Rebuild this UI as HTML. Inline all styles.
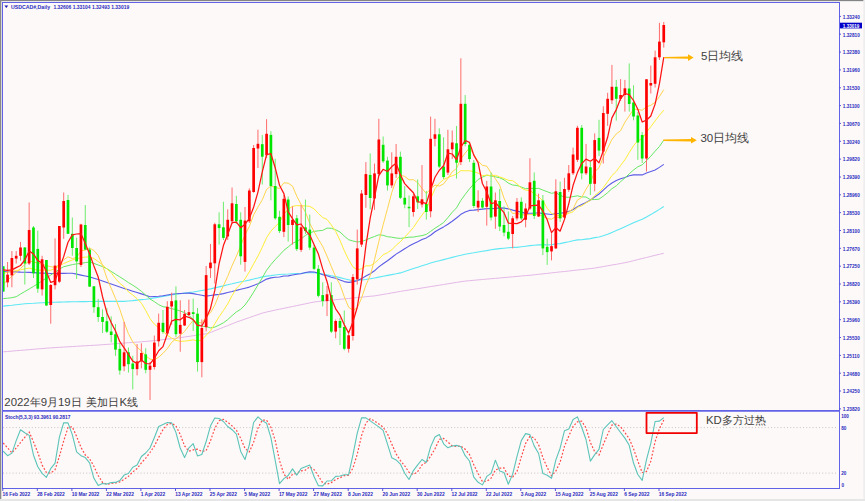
<!DOCTYPE html>
<html><head><meta charset="utf-8">
<style>
html,body{margin:0;padding:0;background:#fdf9f8;}
body{width:865px;height:501px;overflow:hidden;position:relative;font-family:"Liberation Sans",sans-serif;}
svg{position:absolute;left:0;top:0;}
.ax text{font-family:"Liberation Sans",sans-serif;font-size:5.9px;fill:#2a2ac0;font-weight:bold;}
.cn{font-family:"Liberation Sans",sans-serif;fill:#404040;}
</style></head><body>
<svg width="865" height="501" viewBox="0 0 865 501">
<rect x="0" y="0" width="865" height="501" fill="#fdf9f8"/>
<rect x="0" y="0" width="865" height="1" fill="#848484"/>
<rect x="0" y="1" width="865" height="1" fill="#e8e8e8"/>
<rect x="0" y="0" width="1.3" height="501" fill="#8a8a8a"/>
<rect x="863.3" y="0" width="1.7" height="501" fill="#eeeeee"/>
<rect x="0" y="499" width="865" height="2" fill="#e6e6e6"/>
<!-- frame -->
<g stroke="#6262e6" stroke-width="1">
<line x1="2.5" y1="2" x2="2.5" y2="489"/>
<line x1="2" y1="2.5" x2="840" y2="2.5"/>
<line x1="839.5" y1="2" x2="839.5" y2="489"/>
<line x1="2" y1="488.5" x2="840" y2="488.5"/>
<line x1="2.5" y1="410.9" x2="839" y2="410.9" stroke-width="1.8"/>
</g>
<!-- levels -->
<line x1="3" y1="427.6" x2="838" y2="427.6" stroke="#b8b8b8" stroke-width="0.8" stroke-dasharray="1,2.2"/>
<line x1="3" y1="473.1" x2="838" y2="473.1" stroke="#b8b8b8" stroke-width="0.8" stroke-dasharray="1,2.2"/>
<g clip-path="url(#mainclip)">
<clipPath id="mainclip"><rect x="3" y="3" width="836" height="407"/></clipPath>
<polyline points="3.2,351.8 7.6,351.5 11.9,351.1 16.2,350.7 20.5,350.4 24.8,350.0 29.2,349.7 33.5,349.3 37.8,348.9 42.1,348.6 46.4,348.2 50.7,347.9 55.1,347.6 59.4,347.3 63.7,347.1 68.0,346.8 72.3,346.6 76.6,346.3 81.0,346.0 85.3,345.8 89.6,345.5 93.9,345.3 98.2,345.0 102.5,344.7 106.9,344.4 111.2,344.1 115.5,343.7 119.8,343.4 124.1,343.1 128.4,342.7 132.8,342.4 137.1,342.1 141.4,341.8 145.7,341.4 150.0,341.1 154.3,340.6 158.7,340.1 163.0,339.6 167.3,339.1 171.6,338.7 175.9,338.2 180.2,337.7 184.6,337.0 188.9,336.4 193.2,335.7 197.5,335.1 201.8,334.4 206.1,333.8 210.5,332.5 214.8,330.7 219.1,329.0 223.4,327.3 227.7,325.6 232.1,323.8 236.4,322.1 240.7,320.6 245.0,319.1 249.3,317.6 253.6,316.1 258.0,314.6 262.3,313.1 266.6,312.0 270.9,311.1 275.2,310.1 279.5,309.2 283.9,308.3 288.2,307.4 292.5,306.5 296.8,305.6 301.1,304.7 305.4,303.8 309.8,302.9 314.1,302.0 318.4,301.5 322.7,301.0 327.0,300.6 331.3,300.2 335.7,299.7 340.0,299.3 344.3,298.9 348.6,298.5 352.9,298.0 357.2,297.6 361.6,297.2 365.9,296.7 370.2,296.3 374.5,295.9 378.8,295.2 383.1,294.4 387.5,293.7 391.8,292.9 396.1,292.2 400.4,291.4 404.7,290.7 409.0,290.0 413.4,289.4 417.7,288.7 422.0,288.0 426.3,287.3 430.6,286.6 435.0,285.9 439.3,285.2 443.6,284.5 447.9,283.8 452.2,283.1 456.5,282.4 460.9,281.7 465.2,281.1 469.5,280.7 473.8,280.3 478.1,279.9 482.4,279.5 486.8,279.1 491.1,278.7 495.4,278.4 499.7,278.0 504.0,277.6 508.3,277.2 512.7,276.8 517.0,276.4 521.3,276.0 525.6,275.6 529.9,275.3 534.2,274.8 538.6,274.3 542.9,273.8 547.2,273.4 551.5,272.9 555.8,272.4 560.1,271.9 564.5,271.5 568.8,271.0 573.1,270.5 577.4,270.0 581.7,269.6 586.0,269.1 590.4,268.6 594.7,268.1 599.0,267.3 603.3,266.6 607.6,265.8 611.9,265.0 616.3,264.3 620.6,263.5 624.9,262.7 629.2,261.8 633.5,260.7 637.8,259.6 642.2,258.5 646.5,257.5 650.8,256.4 655.1,255.3 659.4,254.3 663.8,253.3" fill="none" stroke="#e4b8e8" stroke-width="1" stroke-linejoin="round"/>
<polyline points="3.2,306.1 7.6,305.6 11.9,305.2 16.2,304.7 20.5,304.2 24.8,303.7 29.2,303.5 33.5,303.3 37.8,303.0 42.1,302.8 46.4,302.6 50.7,302.4 55.1,302.3 59.4,302.1 63.7,302.0 68.0,301.9 72.3,301.8 76.6,301.7 81.0,301.6 85.3,301.6 89.6,301.5 93.9,301.5 98.2,301.4 102.5,301.4 106.9,301.4 111.2,301.4 115.5,301.4 119.8,301.4 124.1,301.4 128.4,301.0 132.8,300.6 137.1,300.1 141.4,299.6 145.7,299.2 150.0,298.7 154.3,297.9 158.7,297.2 163.0,296.4 167.3,295.7 171.6,295.0 175.9,294.3 180.2,293.7 184.6,293.1 188.9,292.6 193.2,292.0 197.5,291.3 201.8,290.5 206.1,289.8 210.5,288.9 214.8,287.9 219.1,286.9 223.4,285.9 227.7,284.8 232.1,283.8 236.4,282.7 240.7,281.8 245.0,281.0 249.3,280.1 253.6,279.0 258.0,278.0 262.3,276.9 266.6,276.1 270.9,275.6 275.2,275.0 279.5,274.5 283.9,274.2 288.2,274.0 292.5,273.7 296.8,273.5 301.1,273.3 305.4,273.0 309.8,272.8 314.1,272.6 318.4,273.2 322.7,274.0 327.0,274.9 331.3,275.7 335.7,276.6 340.0,277.6 344.3,278.7 348.6,279.8 352.9,280.8 357.2,280.3 361.6,279.9 365.9,279.5 370.2,278.8 374.5,278.0 378.8,277.1 383.1,276.3 387.5,275.4 391.8,274.6 396.1,273.8 400.4,272.9 404.7,271.5 409.0,270.0 413.4,268.6 417.7,267.2 422.0,265.8 426.3,264.4 430.6,263.0 435.0,261.8 439.3,260.7 443.6,259.6 447.9,258.5 452.2,257.4 456.5,256.3 460.9,255.3 465.2,254.2 469.5,253.5 473.8,252.8 478.1,252.0 482.4,251.3 486.8,250.6 491.1,249.8 495.4,249.1 499.7,248.6 504.0,248.2 508.3,247.8 512.7,247.4 517.0,247.4 521.3,246.8 525.6,246.2 529.9,245.6 534.2,245.3 538.6,244.9 542.9,244.8 547.2,244.9 551.5,244.7 555.8,243.9 560.1,243.6 564.5,242.6 568.8,241.7 573.1,240.7 577.4,239.9 581.7,239.7 586.0,239.1 590.4,238.6 594.7,237.6 599.0,237.0 603.3,235.8 607.6,234.3 611.9,232.4 616.3,230.6 620.6,228.7 624.9,226.7 629.2,224.8 633.5,222.8 637.8,220.9 642.2,219.3 646.5,216.9 650.8,214.6 655.1,212.0 659.4,209.4 663.8,206.5" fill="none" stroke="#5ee8f4" stroke-width="1.1" stroke-linejoin="round"/>
<polyline points="3.2,271.5 7.6,271.7 11.9,271.8 16.2,271.9 20.5,272.1 24.8,272.2 29.2,272.4 33.5,272.6 37.8,272.9 42.1,273.1 46.4,273.3 50.7,273.5 55.1,273.5 59.4,273.4 63.7,273.4 68.0,273.3 72.3,273.3 76.6,274.1 81.0,275.1 85.3,276.0 89.6,276.9 93.9,278.2 98.2,279.5 102.5,280.9 106.9,282.4 111.2,283.9 115.5,285.4 119.8,286.9 124.1,288.4 128.4,289.8 132.8,291.2 137.1,292.6 141.4,293.9 145.7,295.3 150.0,296.7 154.3,296.5 158.7,296.3 163.0,295.7 167.3,295.0 171.6,294.3 175.9,293.7 180.2,293.5 184.6,293.3 188.9,293.1 193.2,293.6 197.5,294.5 201.8,295.3 206.1,296.1 210.5,295.5 214.8,294.9 219.1,294.4 223.4,293.6 227.7,292.5 232.1,291.5 236.4,290.4 240.7,289.3 245.0,288.2 249.3,287.1 253.6,285.4 258.0,283.7 262.3,281.5 266.6,279.1 270.9,277.9 275.2,277.3 279.5,277.0 283.9,276.0 288.2,275.9 292.5,275.0 296.8,274.3 301.1,273.8 305.4,272.5 309.8,271.9 314.1,272.0 318.4,273.1 322.7,274.8 327.0,275.8 331.3,277.2 335.7,278.2 340.0,279.9 344.3,281.6 348.6,282.4 352.9,281.9 357.2,280.7 361.6,278.6 365.9,276.0 370.2,273.7 374.5,270.8 378.8,266.9 383.1,263.7 387.5,260.7 391.8,257.5 396.1,254.1 400.4,251.5 404.7,248.7 409.0,246.1 413.4,243.7 417.7,241.7 422.0,239.5 426.3,237.9 430.6,235.2 435.0,231.8 439.3,229.2 443.6,226.9 447.9,224.2 452.2,221.3 456.5,218.0 460.9,214.3 465.2,212.1 469.5,210.4 473.8,210.1 478.1,209.6 482.4,209.1 486.8,208.6 491.1,208.8 495.4,208.4 499.7,207.9 504.0,208.1 508.3,208.9 512.7,210.1 517.0,211.1 521.3,212.1 525.6,213.4 529.9,213.3 534.2,213.3 538.6,212.7 542.9,213.6 547.2,214.0 551.5,214.5 555.8,213.5 560.1,213.3 564.5,212.6 568.8,211.4 573.1,209.5 577.4,206.7 581.7,204.6 586.0,202.4 590.4,200.0 594.7,197.0 599.0,194.0 603.3,190.1 607.6,186.1 611.9,183.0 616.3,180.5 620.6,178.8 624.9,177.4 629.2,175.8 633.5,174.9 637.8,174.9 642.2,174.9 646.5,173.1 650.8,171.6 655.1,170.0 659.4,167.4 663.8,164.4" fill="none" stroke="#5c5ce6" stroke-width="1.1" stroke-linejoin="round"/>
<polyline points="3.2,298.6 7.6,298.2 11.9,297.7 16.2,296.7 20.5,294.1 24.8,291.5 29.2,289.0 33.5,286.4 37.8,283.8 42.1,280.9 46.4,278.0 50.7,275.1 55.1,272.2 59.4,269.1 63.7,266.7 68.0,265.7 72.3,264.6 76.6,263.9 81.0,263.3 85.3,262.6 89.6,262.0 93.9,263.4 98.2,265.0 102.5,266.6 106.9,268.7 111.2,271.4 115.5,274.2 119.8,276.9 124.1,279.6 128.4,282.6 132.8,285.2 137.1,288.1 141.4,291.3 145.7,295.1 150.0,299.0 154.3,301.6 158.7,304.7 163.0,306.7 167.3,307.3 171.6,308.7 175.9,309.6 180.2,311.0 184.6,312.6 188.9,315.5 193.2,319.2 197.5,323.5 201.8,326.2 206.1,326.6 210.5,327.9 214.8,327.1 219.1,325.1 223.4,322.8 227.7,319.6 232.1,315.6 236.4,311.9 240.7,309.3 245.0,305.0 249.3,299.0 253.6,292.2 258.0,284.8 262.3,277.8 266.6,270.2 270.9,264.6 275.2,259.6 279.5,255.1 283.9,250.3 288.2,247.0 292.5,243.3 296.8,241.4 301.1,238.9 305.4,235.4 309.8,232.9 314.1,231.4 318.4,230.8 322.7,230.4 327.0,228.1 331.3,228.3 335.7,229.8 340.0,232.0 344.3,236.1 348.6,239.7 352.9,241.0 357.2,241.9 361.6,241.6 365.9,240.0 370.2,238.1 374.5,236.5 378.8,234.8 383.1,235.3 387.5,236.7 391.8,237.2 396.1,238.0 400.4,238.4 404.7,237.9 409.0,237.2 413.4,237.1 417.7,236.3 422.0,235.6 426.3,234.4 430.6,231.4 435.0,228.2 439.3,225.5 443.6,222.5 447.9,217.6 452.2,212.3 456.5,207.9 460.9,200.3 465.2,194.4 469.5,188.8 473.8,184.0 478.1,179.5 482.4,177.2 486.8,175.2 491.1,176.0 495.4,176.8 499.7,177.8 504.0,179.8 508.3,183.1 512.7,185.0 517.0,185.5 521.3,187.0 525.6,188.7 529.9,188.2 534.2,188.6 538.6,188.3 542.9,190.1 547.2,191.7 551.5,193.3 555.8,192.6 560.1,195.3 564.5,197.1 568.8,197.3 573.1,196.6 577.4,195.8 581.7,196.9 586.0,197.0 590.4,199.7 594.7,199.5 599.0,199.2 603.3,196.1 607.6,192.7 611.9,188.7 616.3,185.8 620.6,181.7 624.9,178.0 629.2,173.9 633.5,170.0 637.8,166.8 642.2,164.8 646.5,160.7 650.8,156.2 655.1,151.2 659.4,146.5 663.8,140.1" fill="none" stroke="#66e866" stroke-width="1" stroke-linejoin="round"/>
<polyline points="3.2,273.2 7.6,272.3 11.9,271.5 16.2,270.6 20.5,269.8 24.8,268.9 29.2,268.1 33.5,269.2 37.8,270.2 42.1,270.2 46.4,270.2 50.7,270.2 55.1,268.4 59.4,265.8 63.7,263.5 68.0,261.7 72.3,260.0 76.6,258.8 81.0,257.6 85.3,257.1 89.6,256.9 93.9,258.5 98.2,261.5 102.5,264.8 106.9,269.0 111.2,272.6 115.5,278.5 119.8,283.4 124.1,286.6 128.4,291.8 132.8,295.0 137.1,298.8 141.4,303.2 145.7,310.4 150.0,318.6 154.3,324.1 158.7,327.8 163.0,331.3 167.3,335.4 171.6,338.0 175.9,340.4 180.2,341.3 184.6,341.1 188.9,340.6 193.2,339.8 197.5,341.1 201.8,340.0 206.1,335.3 210.5,330.8 214.8,323.8 219.1,316.7 223.4,310.6 227.7,303.9 232.1,295.6 236.4,288.4 240.7,284.0 245.0,278.9 249.3,271.9 253.6,263.9 258.0,256.0 262.3,247.2 266.6,237.6 270.9,231.2 275.2,226.5 279.5,222.4 283.9,214.2 288.2,209.1 292.5,206.3 296.8,205.6 301.1,205.8 305.4,205.9 309.8,206.4 314.1,208.9 318.4,213.5 322.7,217.5 327.0,219.4 331.3,224.9 335.7,231.4 340.0,240.4 344.3,250.7 348.6,259.6 352.9,266.8 357.2,269.9 361.6,268.7 365.9,265.8 370.2,265.8 374.5,263.2 378.8,259.2 383.1,254.8 387.5,252.7 391.8,249.8 396.1,245.3 400.4,241.7 404.7,237.2 409.0,232.5 413.4,227.6 417.7,221.1 422.0,215.1 426.3,209.3 430.6,198.8 435.0,188.7 439.3,183.2 443.6,179.6 447.9,177.4 452.2,175.8 456.5,174.1 460.9,170.6 465.2,170.8 469.5,170.7 473.8,171.8 478.1,173.1 482.4,175.7 486.8,175.1 491.1,175.7 495.4,175.3 499.7,176.9 504.0,178.4 508.3,180.3 512.7,180.7 517.0,183.8 521.3,188.0 525.6,190.1 529.9,190.4 534.2,193.7 538.6,196.6 542.9,200.9 547.2,208.3 551.5,213.4 555.8,215.0 560.1,215.6 564.5,215.0 568.8,213.3 573.1,211.7 577.4,207.2 581.7,205.9 586.0,202.9 590.4,200.4 594.7,195.5 599.0,192.1 603.3,187.7 607.6,181.7 611.9,175.6 616.3,171.4 620.6,165.4 624.9,159.8 629.2,152.6 633.5,145.8 637.8,140.6 642.2,139.0 646.5,132.0 650.8,126.7 655.1,120.9 659.4,115.3 663.8,110.1" fill="none" stroke="#ffee3a" stroke-width="1" stroke-linejoin="round"/>
<polyline points="3.2,284.1 7.6,280.2 11.9,276.3 16.2,272.4 20.5,268.5 24.8,264.6 29.2,260.8 33.5,262.0 37.8,263.1 42.1,264.2 46.4,265.6 50.7,266.7 55.1,267.4 59.4,264.4 63.7,259.8 68.0,256.8 72.3,258.6 76.6,257.4 81.0,251.0 85.3,250.0 89.6,248.2 93.9,250.4 98.2,255.5 102.5,265.1 106.9,278.2 111.2,288.3 115.5,298.4 119.8,309.4 124.1,322.1 128.4,333.6 132.8,341.9 137.1,347.3 141.4,350.9 145.7,355.7 150.0,359.1 154.3,359.8 158.7,357.1 163.0,353.3 167.3,348.7 171.6,342.4 175.9,338.9 180.2,335.3 184.6,331.4 188.9,325.6 193.2,320.4 197.5,322.4 201.8,322.9 206.1,317.2 210.5,312.8 214.8,305.1 219.1,294.5 223.4,285.8 227.7,276.4 232.1,265.5 236.4,256.2 240.7,245.7 245.0,234.9 249.3,226.5 253.6,215.0 258.0,207.0 262.3,199.8 266.6,189.4 270.9,186.0 275.2,187.5 279.5,188.5 283.9,182.8 288.2,183.2 292.5,186.1 296.8,196.2 301.1,204.6 305.4,212.0 309.8,223.4 314.1,231.7 318.4,239.4 322.7,246.4 327.0,256.0 331.3,266.6 335.7,276.8 340.0,284.6 344.3,296.8 348.6,307.2 352.9,310.1 357.2,308.1 361.6,297.9 365.9,285.2 370.2,275.6 374.5,259.7 378.8,241.6 383.1,224.9 387.5,208.6 391.8,192.4 396.1,180.4 400.4,175.3 404.7,176.4 409.0,179.8 413.4,179.7 417.7,182.6 422.0,188.5 426.3,193.6 430.6,188.9 435.0,185.0 439.3,186.0 443.6,183.9 447.9,178.4 452.2,171.8 456.5,168.5 460.9,158.7 465.2,153.1 469.5,147.8 473.8,154.6 478.1,161.2 482.4,165.3 486.8,166.2 491.1,173.1 495.4,178.8 499.7,185.2 504.0,198.1 508.3,207.6 512.7,213.5 517.0,213.1 521.3,214.8 525.6,214.9 529.9,214.5 534.2,214.3 538.6,214.3 542.9,216.5 547.2,218.5 551.5,219.2 555.8,216.5 560.1,218.2 564.5,215.2 568.8,211.7 573.1,208.9 577.4,200.1 581.7,197.4 586.0,189.2 590.4,182.4 594.7,171.8 599.0,167.7 603.3,157.2 607.6,148.2 611.9,139.5 616.3,133.9 620.6,130.7 624.9,122.2 629.2,115.9 633.5,109.2 637.8,109.4 642.2,110.2 646.5,106.8 650.8,105.3 655.1,102.3 659.4,96.6 663.8,89.6" fill="none" stroke="#ffd54f" stroke-width="1" stroke-linejoin="round"/>
<line x1="3.25" y1="266.0" x2="3.25" y2="292.0" stroke="#6cec6c" stroke-width="1"/>
<rect x="1.90" y="266.3" width="2.70" height="25.2" fill="#00e600"/>
<line x1="7.57" y1="262.0" x2="7.57" y2="287.3" stroke="#ff6c6c" stroke-width="1"/>
<rect x="6.22" y="274.7" width="2.70" height="7.7" fill="#ff0000"/>
<line x1="11.88" y1="251.0" x2="11.88" y2="287.3" stroke="#ff6c6c" stroke-width="1"/>
<rect x="10.53" y="258.0" width="2.70" height="17.4" fill="#ff0000"/>
<line x1="16.20" y1="251.0" x2="16.20" y2="263.5" stroke="#ff6c6c" stroke-width="1"/>
<rect x="14.85" y="255.8" width="2.70" height="2.8" fill="#ff0000"/>
<line x1="20.52" y1="241.9" x2="20.52" y2="260.7" stroke="#ff6c6c" stroke-width="1"/>
<rect x="19.17" y="247.5" width="2.70" height="8.3" fill="#ff0000"/>
<line x1="24.84" y1="247.0" x2="24.84" y2="284.5" stroke="#6cec6c" stroke-width="1"/>
<rect x="23.48" y="247.5" width="2.70" height="16.0" fill="#00e600"/>
<line x1="29.15" y1="202.5" x2="29.15" y2="265.0" stroke="#ff6c6c" stroke-width="1"/>
<rect x="27.80" y="230.0" width="2.70" height="33.5" fill="#ff0000"/>
<line x1="33.47" y1="226.0" x2="33.47" y2="278.0" stroke="#6cec6c" stroke-width="1"/>
<rect x="32.12" y="227.5" width="2.70" height="45.8" fill="#00e600"/>
<line x1="37.79" y1="230.7" x2="37.79" y2="292.8" stroke="#6cec6c" stroke-width="1"/>
<rect x="36.44" y="248.9" width="2.70" height="39.8" fill="#00e600"/>
<line x1="42.10" y1="255.8" x2="42.10" y2="295.6" stroke="#ff6c6c" stroke-width="1"/>
<rect x="40.75" y="259.3" width="2.70" height="30.1" fill="#ff0000"/>
<line x1="46.42" y1="260.0" x2="46.42" y2="306.0" stroke="#6cec6c" stroke-width="1"/>
<rect x="45.07" y="260.0" width="2.70" height="45.5" fill="#00e600"/>
<line x1="50.74" y1="284.0" x2="50.74" y2="323.7" stroke="#ff6c6c" stroke-width="1"/>
<rect x="49.39" y="285.0" width="2.70" height="20.0" fill="#ff0000"/>
<line x1="55.05" y1="238.4" x2="55.05" y2="289.4" stroke="#ff6c6c" stroke-width="1"/>
<rect x="53.70" y="265.6" width="2.70" height="19.6" fill="#ff0000"/>
<line x1="59.37" y1="226.0" x2="59.37" y2="283.0" stroke="#ff6c6c" stroke-width="1"/>
<rect x="58.02" y="226.0" width="2.70" height="55.7" fill="#ff0000"/>
<line x1="63.69" y1="192.5" x2="63.69" y2="238.8" stroke="#ff6c6c" stroke-width="1"/>
<rect x="62.34" y="201.0" width="2.70" height="26.5" fill="#ff0000"/>
<line x1="68.00" y1="195.0" x2="68.00" y2="234.0" stroke="#6cec6c" stroke-width="1"/>
<rect x="66.66" y="200.0" width="2.70" height="33.8" fill="#00e600"/>
<line x1="72.32" y1="217.5" x2="72.32" y2="255.8" stroke="#6cec6c" stroke-width="1"/>
<rect x="70.97" y="233.8" width="2.70" height="14.2" fill="#00e600"/>
<line x1="76.64" y1="237.7" x2="76.64" y2="278.9" stroke="#6cec6c" stroke-width="1"/>
<rect x="75.29" y="248.0" width="2.70" height="13.4" fill="#00e600"/>
<line x1="80.96" y1="223.8" x2="80.96" y2="267.0" stroke="#ff6c6c" stroke-width="1"/>
<rect x="79.61" y="224.5" width="2.70" height="40.5" fill="#ff0000"/>
<line x1="85.27" y1="205.0" x2="85.27" y2="250.0" stroke="#6cec6c" stroke-width="1"/>
<rect x="83.92" y="225.0" width="2.70" height="24.6" fill="#00e600"/>
<line x1="89.59" y1="247.5" x2="89.59" y2="287.0" stroke="#6cec6c" stroke-width="1"/>
<rect x="88.24" y="249.6" width="2.70" height="37.0" fill="#00e600"/>
<line x1="93.91" y1="286.0" x2="93.91" y2="312.8" stroke="#6cec6c" stroke-width="1"/>
<rect x="92.56" y="286.3" width="2.70" height="20.9" fill="#00e600"/>
<line x1="98.22" y1="298.9" x2="98.22" y2="321.9" stroke="#6cec6c" stroke-width="1"/>
<rect x="96.87" y="307.2" width="2.70" height="9.8" fill="#00e600"/>
<line x1="102.54" y1="309.3" x2="102.54" y2="333.0" stroke="#6cec6c" stroke-width="1"/>
<rect x="101.19" y="317.0" width="2.70" height="4.9" fill="#00e600"/>
<line x1="106.86" y1="308.0" x2="106.86" y2="333.0" stroke="#6cec6c" stroke-width="1"/>
<rect x="105.51" y="321.2" width="2.70" height="10.5" fill="#00e600"/>
<line x1="111.18" y1="316.3" x2="111.18" y2="342.4" stroke="#6cec6c" stroke-width="1"/>
<rect x="109.83" y="331.5" width="2.70" height="3.5" fill="#00e600"/>
<line x1="115.49" y1="324.0" x2="115.49" y2="355.8" stroke="#6cec6c" stroke-width="1"/>
<rect x="114.14" y="334.3" width="2.70" height="15.3" fill="#00e600"/>
<line x1="119.81" y1="343.0" x2="119.81" y2="374.7" stroke="#6cec6c" stroke-width="1"/>
<rect x="118.46" y="348.9" width="2.70" height="21.6" fill="#00e600"/>
<line x1="124.13" y1="321.9" x2="124.13" y2="371.2" stroke="#ff6c6c" stroke-width="1"/>
<rect x="122.78" y="352.3" width="2.70" height="14.0" fill="#ff0000"/>
<line x1="128.44" y1="347.5" x2="128.44" y2="372.6" stroke="#6cec6c" stroke-width="1"/>
<rect x="127.09" y="352.3" width="2.70" height="11.9" fill="#00e600"/>
<line x1="132.76" y1="355.8" x2="132.76" y2="389.4" stroke="#6cec6c" stroke-width="1"/>
<rect x="131.41" y="363.5" width="2.70" height="5.6" fill="#00e600"/>
<line x1="137.08" y1="344.0" x2="137.08" y2="375.4" stroke="#ff6c6c" stroke-width="1"/>
<rect x="135.73" y="361.4" width="2.70" height="7.7" fill="#ff0000"/>
<line x1="141.39" y1="343.3" x2="141.39" y2="368.4" stroke="#ff6c6c" stroke-width="1"/>
<rect x="140.04" y="353.0" width="2.70" height="8.4" fill="#ff0000"/>
<line x1="145.71" y1="348.2" x2="145.71" y2="373.3" stroke="#6cec6c" stroke-width="1"/>
<rect x="144.36" y="354.4" width="2.70" height="15.4" fill="#00e600"/>
<line x1="150.03" y1="362.0" x2="150.03" y2="400.0" stroke="#ff6c6c" stroke-width="1"/>
<rect x="148.68" y="365.6" width="2.70" height="4.2" fill="#ff0000"/>
<line x1="154.34" y1="335.6" x2="154.34" y2="369.5" stroke="#ff6c6c" stroke-width="1"/>
<rect x="153.00" y="342.6" width="2.70" height="24.4" fill="#ff0000"/>
<line x1="158.66" y1="313.6" x2="158.66" y2="346.5" stroke="#ff6c6c" stroke-width="1"/>
<rect x="157.31" y="322.8" width="2.70" height="18.5" fill="#ff0000"/>
<line x1="162.98" y1="310.0" x2="162.98" y2="333.8" stroke="#6cec6c" stroke-width="1"/>
<rect x="161.63" y="322.8" width="2.70" height="9.2" fill="#00e600"/>
<line x1="167.30" y1="301.2" x2="167.30" y2="334.0" stroke="#ff6c6c" stroke-width="1"/>
<rect x="165.95" y="306.8" width="2.70" height="26.7" fill="#ff0000"/>
<line x1="171.61" y1="292.7" x2="171.61" y2="324.7" stroke="#ff6c6c" stroke-width="1"/>
<rect x="170.26" y="301.2" width="2.70" height="5.3" fill="#ff0000"/>
<line x1="175.93" y1="286.3" x2="175.93" y2="337.0" stroke="#6cec6c" stroke-width="1"/>
<rect x="174.58" y="300.4" width="2.70" height="33.8" fill="#00e600"/>
<line x1="180.25" y1="300.3" x2="180.25" y2="351.7" stroke="#ff6c6c" stroke-width="1"/>
<rect x="178.90" y="324.9" width="2.70" height="8.8" fill="#ff0000"/>
<line x1="184.56" y1="310.0" x2="184.56" y2="326.0" stroke="#ff6c6c" stroke-width="1"/>
<rect x="183.21" y="313.8" width="2.70" height="11.7" fill="#ff0000"/>
<line x1="188.88" y1="299.6" x2="188.88" y2="316.0" stroke="#ff6c6c" stroke-width="1"/>
<rect x="187.53" y="312.2" width="2.70" height="2.8" fill="#ff0000"/>
<line x1="193.20" y1="298.7" x2="193.20" y2="331.0" stroke="#6cec6c" stroke-width="1"/>
<rect x="191.85" y="312.2" width="2.70" height="1.8" fill="#00e600"/>
<line x1="197.52" y1="308.0" x2="197.52" y2="371.6" stroke="#6cec6c" stroke-width="1"/>
<rect x="196.17" y="313.7" width="2.70" height="48.4" fill="#00e600"/>
<line x1="201.83" y1="319.4" x2="201.83" y2="377.3" stroke="#ff6c6c" stroke-width="1"/>
<rect x="200.48" y="328.0" width="2.70" height="34.1" fill="#ff0000"/>
<line x1="206.15" y1="266.0" x2="206.15" y2="331.4" stroke="#ff6c6c" stroke-width="1"/>
<rect x="204.80" y="275.1" width="2.70" height="52.1" fill="#ff0000"/>
<line x1="210.47" y1="243.9" x2="210.47" y2="278.0" stroke="#ff6c6c" stroke-width="1"/>
<rect x="209.12" y="262.6" width="2.70" height="5.6" fill="#ff0000"/>
<line x1="214.78" y1="222.8" x2="214.78" y2="283.5" stroke="#ff6c6c" stroke-width="1"/>
<rect x="213.43" y="224.3" width="2.70" height="39.0" fill="#ff0000"/>
<line x1="219.10" y1="212.3" x2="219.10" y2="244.6" stroke="#6cec6c" stroke-width="1"/>
<rect x="217.75" y="224.3" width="2.70" height="3.8" fill="#00e600"/>
<line x1="223.42" y1="201.8" x2="223.42" y2="240.0" stroke="#6cec6c" stroke-width="1"/>
<rect x="222.07" y="227.3" width="2.70" height="10.6" fill="#00e600"/>
<line x1="227.73" y1="209.3" x2="227.73" y2="240.0" stroke="#ff6c6c" stroke-width="1"/>
<rect x="226.38" y="219.8" width="2.70" height="16.6" fill="#ff0000"/>
<line x1="232.05" y1="187.5" x2="232.05" y2="224.0" stroke="#ff6c6c" stroke-width="1"/>
<rect x="230.70" y="203.3" width="2.70" height="18.0" fill="#ff0000"/>
<line x1="236.37" y1="195.8" x2="236.37" y2="224.0" stroke="#6cec6c" stroke-width="1"/>
<rect x="235.02" y="204.0" width="2.70" height="17.3" fill="#00e600"/>
<line x1="240.69" y1="212.3" x2="240.69" y2="264.7" stroke="#6cec6c" stroke-width="1"/>
<rect x="239.34" y="219.8" width="2.70" height="36.5" fill="#00e600"/>
<line x1="245.00" y1="207.0" x2="245.00" y2="271.6" stroke="#ff6c6c" stroke-width="1"/>
<rect x="243.65" y="220.6" width="2.70" height="41.3" fill="#ff0000"/>
<line x1="249.32" y1="188.3" x2="249.32" y2="223.0" stroke="#ff6c6c" stroke-width="1"/>
<rect x="247.97" y="190.5" width="2.70" height="30.8" fill="#ff0000"/>
<line x1="253.64" y1="145.0" x2="253.64" y2="192.8" stroke="#ff6c6c" stroke-width="1"/>
<rect x="252.29" y="148.0" width="2.70" height="44.0" fill="#ff0000"/>
<line x1="257.95" y1="129.7" x2="257.95" y2="168.0" stroke="#ff6c6c" stroke-width="1"/>
<rect x="256.60" y="143.8" width="2.70" height="4.7" fill="#ff0000"/>
<line x1="262.27" y1="135.0" x2="262.27" y2="184.5" stroke="#6cec6c" stroke-width="1"/>
<rect x="260.92" y="144.2" width="2.70" height="12.5" fill="#00e600"/>
<line x1="266.59" y1="119.2" x2="266.59" y2="158.0" stroke="#ff6c6c" stroke-width="1"/>
<rect x="265.24" y="133.8" width="2.70" height="21.4" fill="#ff0000"/>
<line x1="270.90" y1="131.2" x2="270.90" y2="200.3" stroke="#6cec6c" stroke-width="1"/>
<rect x="269.55" y="134.9" width="2.70" height="51.1" fill="#00e600"/>
<line x1="275.22" y1="158.8" x2="275.22" y2="219.8" stroke="#6cec6c" stroke-width="1"/>
<rect x="273.87" y="186.0" width="2.70" height="32.3" fill="#00e600"/>
<line x1="279.54" y1="210.8" x2="279.54" y2="233.0" stroke="#6cec6c" stroke-width="1"/>
<rect x="278.19" y="216.8" width="2.70" height="14.3" fill="#00e600"/>
<line x1="283.86" y1="195.0" x2="283.86" y2="237.1" stroke="#ff6c6c" stroke-width="1"/>
<rect x="282.50" y="198.8" width="2.70" height="33.0" fill="#ff0000"/>
<line x1="288.17" y1="196.5" x2="288.17" y2="241.6" stroke="#6cec6c" stroke-width="1"/>
<rect x="286.82" y="199.5" width="2.70" height="25.5" fill="#00e600"/>
<line x1="292.49" y1="206.3" x2="292.49" y2="244.6" stroke="#ff6c6c" stroke-width="1"/>
<rect x="291.14" y="219.8" width="2.70" height="5.2" fill="#ff0000"/>
<line x1="296.81" y1="215.0" x2="296.81" y2="251.0" stroke="#6cec6c" stroke-width="1"/>
<rect x="295.46" y="218.3" width="2.70" height="30.8" fill="#00e600"/>
<line x1="301.12" y1="204.8" x2="301.12" y2="252.0" stroke="#ff6c6c" stroke-width="1"/>
<rect x="299.77" y="227.3" width="2.70" height="22.6" fill="#ff0000"/>
<line x1="305.44" y1="199.5" x2="305.44" y2="234.0" stroke="#6cec6c" stroke-width="1"/>
<rect x="304.09" y="227.3" width="2.70" height="3.7" fill="#00e600"/>
<line x1="309.76" y1="214.6" x2="309.76" y2="250.0" stroke="#6cec6c" stroke-width="1"/>
<rect x="308.41" y="229.6" width="2.70" height="18.0" fill="#00e600"/>
<line x1="314.07" y1="245.0" x2="314.07" y2="270.0" stroke="#6cec6c" stroke-width="1"/>
<rect x="312.72" y="247.6" width="2.70" height="21.2" fill="#00e600"/>
<line x1="318.39" y1="265.0" x2="318.39" y2="297.3" stroke="#6cec6c" stroke-width="1"/>
<rect x="317.04" y="268.8" width="2.70" height="27.0" fill="#00e600"/>
<line x1="322.71" y1="282.3" x2="322.71" y2="306.4" stroke="#6cec6c" stroke-width="1"/>
<rect x="321.36" y="295.1" width="2.70" height="6.0" fill="#00e600"/>
<line x1="327.03" y1="286.0" x2="327.03" y2="316.1" stroke="#ff6c6c" stroke-width="1"/>
<rect x="325.68" y="294.3" width="2.70" height="6.8" fill="#ff0000"/>
<line x1="331.34" y1="282.3" x2="331.34" y2="333.0" stroke="#6cec6c" stroke-width="1"/>
<rect x="329.99" y="295.1" width="2.70" height="36.5" fill="#00e600"/>
<line x1="335.66" y1="319.5" x2="335.66" y2="338.3" stroke="#ff6c6c" stroke-width="1"/>
<rect x="334.31" y="321.0" width="2.70" height="10.6" fill="#ff0000"/>
<line x1="339.98" y1="318.0" x2="339.98" y2="345.0" stroke="#6cec6c" stroke-width="1"/>
<rect x="338.63" y="321.0" width="2.70" height="6.8" fill="#00e600"/>
<line x1="344.29" y1="310.5" x2="344.29" y2="350.3" stroke="#6cec6c" stroke-width="1"/>
<rect x="342.94" y="327.0" width="2.70" height="21.8" fill="#00e600"/>
<line x1="348.61" y1="333.0" x2="348.61" y2="352.6" stroke="#ff6c6c" stroke-width="1"/>
<rect x="347.26" y="335.3" width="2.70" height="13.5" fill="#ff0000"/>
<line x1="352.93" y1="274.0" x2="352.93" y2="340.6" stroke="#ff6c6c" stroke-width="1"/>
<rect x="351.58" y="277.0" width="2.70" height="59.0" fill="#ff0000"/>
<line x1="357.24" y1="229.6" x2="357.24" y2="284.6" stroke="#ff6c6c" stroke-width="1"/>
<rect x="355.89" y="248.4" width="2.70" height="30.9" fill="#ff0000"/>
<line x1="361.56" y1="190.0" x2="361.56" y2="247.0" stroke="#ff6c6c" stroke-width="1"/>
<rect x="360.21" y="193.5" width="2.70" height="51.1" fill="#ff0000"/>
<line x1="365.88" y1="162.1" x2="365.88" y2="207.8" stroke="#ff6c6c" stroke-width="1"/>
<rect x="364.53" y="174.1" width="2.70" height="20.9" fill="#ff0000"/>
<line x1="370.19" y1="153.4" x2="370.19" y2="209.3" stroke="#6cec6c" stroke-width="1"/>
<rect x="368.84" y="174.9" width="2.70" height="23.1" fill="#00e600"/>
<line x1="374.51" y1="163.6" x2="374.51" y2="209.8" stroke="#ff6c6c" stroke-width="1"/>
<rect x="373.16" y="173.4" width="2.70" height="25.1" fill="#ff0000"/>
<line x1="378.83" y1="118.8" x2="378.83" y2="176.0" stroke="#ff6c6c" stroke-width="1"/>
<rect x="377.48" y="139.5" width="2.70" height="34.6" fill="#ff0000"/>
<line x1="383.15" y1="136.5" x2="383.15" y2="163.0" stroke="#6cec6c" stroke-width="1"/>
<rect x="381.80" y="144.8" width="2.70" height="16.5" fill="#00e600"/>
<line x1="387.46" y1="156.8" x2="387.46" y2="190.6" stroke="#6cec6c" stroke-width="1"/>
<rect x="386.11" y="160.6" width="2.70" height="24.8" fill="#00e600"/>
<line x1="391.78" y1="152.3" x2="391.78" y2="188.0" stroke="#ff6c6c" stroke-width="1"/>
<rect x="390.43" y="173.4" width="2.70" height="12.0" fill="#ff0000"/>
<line x1="396.10" y1="144.0" x2="396.10" y2="177.9" stroke="#ff6c6c" stroke-width="1"/>
<rect x="394.75" y="156.8" width="2.70" height="17.3" fill="#ff0000"/>
<line x1="400.41" y1="151.6" x2="400.41" y2="199.0" stroke="#6cec6c" stroke-width="1"/>
<rect x="399.06" y="156.8" width="2.70" height="41.0" fill="#00e600"/>
<line x1="404.73" y1="186.1" x2="404.73" y2="208.3" stroke="#6cec6c" stroke-width="1"/>
<rect x="403.38" y="197.8" width="2.70" height="6.7" fill="#00e600"/>
<line x1="409.05" y1="195.5" x2="409.05" y2="227.1" stroke="#6cec6c" stroke-width="1"/>
<rect x="407.70" y="206.8" width="2.70" height="1.5" fill="#00e600"/>
<line x1="413.37" y1="194.0" x2="413.37" y2="216.6" stroke="#ff6c6c" stroke-width="1"/>
<rect x="412.01" y="196.3" width="2.70" height="15.7" fill="#ff0000"/>
<line x1="417.68" y1="179.4" x2="417.68" y2="209.0" stroke="#6cec6c" stroke-width="1"/>
<rect x="416.33" y="196.3" width="2.70" height="6.0" fill="#00e600"/>
<line x1="422.00" y1="165.1" x2="422.00" y2="207.5" stroke="#ff6c6c" stroke-width="1"/>
<rect x="420.65" y="199.3" width="2.70" height="5.2" fill="#ff0000"/>
<line x1="426.32" y1="191.0" x2="426.32" y2="219.6" stroke="#6cec6c" stroke-width="1"/>
<rect x="424.97" y="203.8" width="2.70" height="8.2" fill="#00e600"/>
<line x1="430.63" y1="116.6" x2="430.63" y2="217.3" stroke="#ff6c6c" stroke-width="1"/>
<rect x="429.28" y="138.8" width="2.70" height="72.5" fill="#ff0000"/>
<line x1="434.95" y1="118.8" x2="434.95" y2="146.3" stroke="#ff6c6c" stroke-width="1"/>
<rect x="433.60" y="134.3" width="2.70" height="4.5" fill="#ff0000"/>
<line x1="439.27" y1="128.3" x2="439.27" y2="168.0" stroke="#6cec6c" stroke-width="1"/>
<rect x="437.92" y="134.3" width="2.70" height="32.3" fill="#00e600"/>
<line x1="443.58" y1="137.3" x2="443.58" y2="179.0" stroke="#6cec6c" stroke-width="1"/>
<rect x="442.23" y="166.6" width="2.70" height="10.5" fill="#00e600"/>
<line x1="447.90" y1="129.8" x2="447.90" y2="175.0" stroke="#ff6c6c" stroke-width="1"/>
<rect x="446.55" y="149.3" width="2.70" height="23.3" fill="#ff0000"/>
<line x1="452.22" y1="130.5" x2="452.22" y2="159.1" stroke="#ff6c6c" stroke-width="1"/>
<rect x="450.87" y="142.5" width="2.70" height="6.8" fill="#ff0000"/>
<line x1="456.54" y1="126.0" x2="456.54" y2="178.6" stroke="#6cec6c" stroke-width="1"/>
<rect x="455.19" y="143.3" width="2.70" height="19.5" fill="#00e600"/>
<line x1="460.85" y1="58.3" x2="460.85" y2="165.1" stroke="#ff6c6c" stroke-width="1"/>
<rect x="459.50" y="103.8" width="2.70" height="58.3" fill="#ff0000"/>
<line x1="465.17" y1="95.1" x2="465.17" y2="146.3" stroke="#6cec6c" stroke-width="1"/>
<rect x="463.82" y="103.8" width="2.70" height="40.2" fill="#00e600"/>
<line x1="469.49" y1="142.0" x2="469.49" y2="162.0" stroke="#6cec6c" stroke-width="1"/>
<rect x="468.14" y="144.8" width="2.70" height="14.3" fill="#00e600"/>
<line x1="473.80" y1="160.0" x2="473.80" y2="208.0" stroke="#6cec6c" stroke-width="1"/>
<rect x="472.45" y="162.8" width="2.70" height="43.2" fill="#00e600"/>
<line x1="478.12" y1="190.3" x2="478.12" y2="212.0" stroke="#ff6c6c" stroke-width="1"/>
<rect x="476.77" y="200.8" width="2.70" height="6.7" fill="#ff0000"/>
<line x1="482.44" y1="198.0" x2="482.44" y2="209.0" stroke="#6cec6c" stroke-width="1"/>
<rect x="481.09" y="200.8" width="2.70" height="6.7" fill="#00e600"/>
<line x1="486.75" y1="180.9" x2="486.75" y2="225.6" stroke="#ff6c6c" stroke-width="1"/>
<rect x="485.40" y="186.5" width="2.70" height="20.3" fill="#ff0000"/>
<line x1="491.07" y1="172.6" x2="491.07" y2="220.5" stroke="#6cec6c" stroke-width="1"/>
<rect x="489.72" y="186.5" width="2.70" height="31.0" fill="#00e600"/>
<line x1="495.39" y1="192.5" x2="495.39" y2="228.8" stroke="#ff6c6c" stroke-width="1"/>
<rect x="494.04" y="200.3" width="2.70" height="16.3" fill="#ff0000"/>
<line x1="499.71" y1="189.0" x2="499.71" y2="231.1" stroke="#6cec6c" stroke-width="1"/>
<rect x="498.36" y="201.0" width="2.70" height="25.6" fill="#00e600"/>
<line x1="504.02" y1="206.3" x2="504.02" y2="236.3" stroke="#6cec6c" stroke-width="1"/>
<rect x="502.67" y="225.0" width="2.70" height="7.6" fill="#00e600"/>
<line x1="508.34" y1="211.5" x2="508.34" y2="240.1" stroke="#6cec6c" stroke-width="1"/>
<rect x="506.99" y="231.8" width="2.70" height="6.8" fill="#00e600"/>
<line x1="512.66" y1="216.1" x2="512.66" y2="248.4" stroke="#ff6c6c" stroke-width="1"/>
<rect x="511.31" y="218.3" width="2.70" height="15.7" fill="#ff0000"/>
<line x1="516.97" y1="198.0" x2="516.97" y2="220.6" stroke="#ff6c6c" stroke-width="1"/>
<rect x="515.62" y="201.8" width="2.70" height="16.6" fill="#ff0000"/>
<line x1="521.29" y1="197.3" x2="521.29" y2="220.0" stroke="#6cec6c" stroke-width="1"/>
<rect x="519.94" y="201.8" width="2.70" height="16.6" fill="#00e600"/>
<line x1="525.61" y1="203.3" x2="525.61" y2="227.3" stroke="#ff6c6c" stroke-width="1"/>
<rect x="524.26" y="208.5" width="2.70" height="11.3" fill="#ff0000"/>
<line x1="529.92" y1="158.3" x2="529.92" y2="210.1" stroke="#ff6c6c" stroke-width="1"/>
<rect x="528.57" y="182.3" width="2.70" height="26.3" fill="#ff0000"/>
<line x1="534.24" y1="172.5" x2="534.24" y2="219.0" stroke="#6cec6c" stroke-width="1"/>
<rect x="532.89" y="180.8" width="2.70" height="35.2" fill="#00e600"/>
<line x1="538.56" y1="193.6" x2="538.56" y2="217.0" stroke="#ff6c6c" stroke-width="1"/>
<rect x="537.21" y="200.3" width="2.70" height="16.2" fill="#ff0000"/>
<line x1="542.88" y1="195.0" x2="542.88" y2="255.1" stroke="#6cec6c" stroke-width="1"/>
<rect x="541.52" y="200.5" width="2.70" height="47.9" fill="#00e600"/>
<line x1="547.19" y1="238.6" x2="547.19" y2="264.9" stroke="#6cec6c" stroke-width="1"/>
<rect x="545.84" y="246.8" width="2.70" height="5.3" fill="#00e600"/>
<line x1="551.51" y1="233.3" x2="551.51" y2="260.4" stroke="#ff6c6c" stroke-width="1"/>
<rect x="550.16" y="246.1" width="2.70" height="5.3" fill="#ff0000"/>
<line x1="555.83" y1="179.3" x2="555.83" y2="249.0" stroke="#ff6c6c" stroke-width="1"/>
<rect x="554.48" y="191.3" width="2.70" height="57.1" fill="#ff0000"/>
<line x1="560.14" y1="181.6" x2="560.14" y2="222.0" stroke="#6cec6c" stroke-width="1"/>
<rect x="558.79" y="192.0" width="2.70" height="26.3" fill="#00e600"/>
<line x1="564.46" y1="177.8" x2="564.46" y2="219.0" stroke="#ff6c6c" stroke-width="1"/>
<rect x="563.11" y="189.0" width="2.70" height="28.5" fill="#ff0000"/>
<line x1="568.78" y1="165.0" x2="568.78" y2="192.0" stroke="#ff6c6c" stroke-width="1"/>
<rect x="567.43" y="173.3" width="2.70" height="16.5" fill="#ff0000"/>
<line x1="573.09" y1="147.6" x2="573.09" y2="175.0" stroke="#ff6c6c" stroke-width="1"/>
<rect x="571.74" y="154.5" width="2.70" height="18.8" fill="#ff0000"/>
<line x1="577.41" y1="125.8" x2="577.41" y2="162.0" stroke="#ff6c6c" stroke-width="1"/>
<rect x="576.06" y="127.8" width="2.70" height="32.0" fill="#ff0000"/>
<line x1="581.73" y1="125.0" x2="581.73" y2="179.3" stroke="#6cec6c" stroke-width="1"/>
<rect x="580.38" y="127.8" width="2.70" height="45.5" fill="#00e600"/>
<line x1="586.05" y1="143.9" x2="586.05" y2="175.0" stroke="#ff6c6c" stroke-width="1"/>
<rect x="584.70" y="166.5" width="2.70" height="6.8" fill="#ff0000"/>
<line x1="590.36" y1="162.0" x2="590.36" y2="195.0" stroke="#6cec6c" stroke-width="1"/>
<rect x="589.01" y="167.3" width="2.70" height="16.5" fill="#00e600"/>
<line x1="594.68" y1="133.4" x2="594.68" y2="191.3" stroke="#ff6c6c" stroke-width="1"/>
<rect x="593.33" y="140.1" width="2.70" height="43.7" fill="#ff0000"/>
<line x1="599.00" y1="119.8" x2="599.00" y2="156.0" stroke="#6cec6c" stroke-width="1"/>
<rect x="597.65" y="137.9" width="2.70" height="12.7" fill="#00e600"/>
<line x1="603.31" y1="106.3" x2="603.31" y2="163.5" stroke="#ff6c6c" stroke-width="1"/>
<rect x="601.96" y="113.0" width="2.70" height="38.5" fill="#ff0000"/>
<line x1="607.63" y1="92.8" x2="607.63" y2="125.8" stroke="#ff6c6c" stroke-width="1"/>
<rect x="606.28" y="98.8" width="2.70" height="15.0" fill="#ff0000"/>
<line x1="611.95" y1="64.9" x2="611.95" y2="104.0" stroke="#ff6c6c" stroke-width="1"/>
<rect x="610.60" y="86.8" width="2.70" height="13.5" fill="#ff0000"/>
<line x1="616.26" y1="79.9" x2="616.26" y2="120.6" stroke="#6cec6c" stroke-width="1"/>
<rect x="614.91" y="86.8" width="2.70" height="12.0" fill="#00e600"/>
<line x1="620.58" y1="79.1" x2="620.58" y2="101.0" stroke="#ff6c6c" stroke-width="1"/>
<rect x="619.23" y="95.0" width="2.70" height="3.8" fill="#ff0000"/>
<line x1="624.90" y1="79.9" x2="624.90" y2="111.6" stroke="#ff6c6c" stroke-width="1"/>
<rect x="623.55" y="88.3" width="2.70" height="6.7" fill="#ff0000"/>
<line x1="629.22" y1="63.4" x2="629.22" y2="111.6" stroke="#6cec6c" stroke-width="1"/>
<rect x="627.87" y="88.5" width="2.70" height="15.5" fill="#00e600"/>
<line x1="633.53" y1="85.2" x2="633.53" y2="120.3" stroke="#6cec6c" stroke-width="1"/>
<rect x="632.18" y="102.5" width="2.70" height="14.0" fill="#00e600"/>
<line x1="637.85" y1="112.0" x2="637.85" y2="159.8" stroke="#6cec6c" stroke-width="1"/>
<rect x="636.50" y="115.5" width="2.70" height="27.0" fill="#00e600"/>
<line x1="642.17" y1="132.0" x2="642.17" y2="163.0" stroke="#6cec6c" stroke-width="1"/>
<rect x="640.82" y="135.0" width="2.70" height="23.5" fill="#00e600"/>
<line x1="646.48" y1="79.1" x2="646.48" y2="171.5" stroke="#ff6c6c" stroke-width="1"/>
<rect x="645.13" y="79.3" width="2.70" height="79.2" fill="#ff0000"/>
<line x1="650.80" y1="65.6" x2="650.80" y2="93.5" stroke="#ff6c6c" stroke-width="1"/>
<rect x="649.45" y="83.0" width="2.70" height="2.5" fill="#ff0000"/>
<line x1="655.12" y1="50.6" x2="655.12" y2="87.5" stroke="#ff6c6c" stroke-width="1"/>
<rect x="653.77" y="57.3" width="2.70" height="26.5" fill="#ff0000"/>
<line x1="659.43" y1="22.8" x2="659.43" y2="60.0" stroke="#ff6c6c" stroke-width="1"/>
<rect x="658.08" y="41.6" width="2.70" height="15.7" fill="#ff0000"/>
<line x1="663.75" y1="22.0" x2="663.75" y2="47.6" stroke="#ff6c6c" stroke-width="1"/>
<rect x="662.40" y="25.0" width="2.70" height="17.3" fill="#ff0000"/>
<polyline points="3.2,269.8 7.6,270.3 11.9,269.9 16.2,267.6 20.5,265.5 24.8,259.9 29.2,251.0 33.5,254.0 37.8,260.6 42.1,263.0 46.4,271.4 50.7,282.4 55.1,280.8 59.4,268.3 63.7,256.6 68.0,242.3 72.3,234.9 76.6,234.0 81.0,233.7 85.3,243.5 89.6,254.0 93.9,265.9 98.2,277.0 102.5,296.5 106.9,312.9 111.2,322.6 115.5,331.0 119.8,341.7 124.1,347.8 128.4,354.3 132.8,361.1 137.1,363.5 141.4,360.0 145.7,363.5 150.0,363.8 154.3,358.5 158.7,350.8 163.0,346.6 167.3,334.0 171.6,321.1 175.9,319.4 180.2,319.8 184.6,316.2 188.9,317.3 193.2,319.8 197.5,325.4 201.8,326.0 206.1,318.3 210.5,308.4 214.8,290.4 219.1,263.6 223.4,245.6 227.7,234.5 232.1,222.7 236.4,222.1 240.7,227.7 245.0,224.3 249.3,218.4 253.6,207.3 258.0,191.8 262.3,171.9 266.6,154.6 270.9,153.7 275.2,167.7 279.5,185.2 283.9,193.6 288.2,211.8 292.5,218.6 296.8,224.8 301.1,224.0 305.4,230.4 309.8,235.0 314.1,244.8 318.4,254.1 322.7,268.9 327.0,281.5 331.3,298.3 335.7,308.8 340.0,315.2 344.3,324.7 348.6,332.9 352.9,322.0 357.2,307.5 361.6,280.6 365.9,245.7 370.2,218.2 374.5,197.5 378.8,175.7 383.1,169.3 387.5,171.5 391.8,166.6 396.1,163.3 400.4,174.9 404.7,183.6 409.0,188.2 413.4,192.7 417.7,201.8 422.0,202.1 426.3,203.6 430.6,189.7 435.0,177.3 439.3,170.2 443.6,165.8 447.9,153.2 452.2,154.0 456.5,159.7 460.9,147.1 465.2,140.5 469.5,142.4 473.8,155.1 478.1,162.7 482.4,183.5 486.8,192.0 491.1,203.7 495.4,202.5 499.7,207.7 504.0,212.7 508.3,223.1 512.7,223.3 517.0,223.6 521.3,221.9 525.6,217.1 529.9,205.9 534.2,205.4 538.6,205.1 542.9,211.1 547.2,219.8 551.5,232.6 555.8,227.6 560.1,231.2 564.5,219.4 568.8,203.6 573.1,185.3 577.4,172.6 581.7,163.6 586.0,159.1 590.4,161.2 594.7,158.3 599.0,162.9 603.3,150.8 607.6,137.3 611.9,117.9 616.3,109.6 620.6,98.5 624.9,93.5 629.2,94.6 633.5,100.5 637.8,109.3 642.2,122.0 646.5,120.2 650.8,116.0 655.1,104.1 659.4,83.9 663.8,57.2" fill="none" stroke="#ff1414" stroke-width="1.25" stroke-linejoin="round"/>
</g>
<g clip-path="url(#subclip)">
<clipPath id="subclip"><rect x="3" y="412" width="836" height="76"/></clipPath>
<polyline points="3.2,443.0 7.6,447.9 11.9,452.9 16.2,447.9 20.5,442.6 24.8,437.3 29.2,432.1 33.5,441.9 37.8,452.5 42.1,465.1 46.4,472.5 50.7,473.1 55.1,469.7 59.4,456.3 63.7,440.9 68.0,427.6 72.3,426.7 76.6,436.5 81.0,447.4 85.3,455.0 89.6,458.7 93.9,466.3 98.2,475.5 102.5,482.4 106.9,484.3 111.2,483.4 115.5,483.0 119.8,481.9 124.1,479.4 128.4,476.4 132.8,471.9 137.1,468.6 141.4,462.9 145.7,458.2 150.0,452.5 154.3,446.2 158.7,437.4 163.0,429.6 167.3,424.5 171.6,423.3 175.9,425.9 180.2,434.4 184.6,446.0 188.9,451.2 193.2,449.8 197.5,449.2 201.8,451.4 206.1,450.7 210.5,440.7 214.8,428.5 219.1,420.8 223.4,419.3 227.7,422.2 232.1,425.9 236.4,430.1 240.7,438.4 245.0,448.4 249.3,451.9 253.6,442.3 258.0,428.0 262.3,420.0 266.6,420.2 270.9,427.2 275.2,440.4 279.5,460.5 283.9,474.2 288.2,479.2 292.5,474.4 296.8,473.2 301.1,470.9 305.4,470.1 309.8,466.8 314.1,469.6 318.4,475.9 322.7,482.8 327.0,484.2 331.3,482.6 335.7,479.4 340.0,477.8 344.3,475.7 348.6,475.1 352.9,468.2 357.2,454.3 361.6,435.4 365.9,423.0 370.2,418.8 374.5,420.9 378.8,423.9 383.1,427.1 387.5,433.8 391.8,444.1 396.1,453.9 400.4,460.6 404.7,465.8 409.0,472.3 413.4,474.5 417.7,471.6 422.0,465.0 426.3,462.3 430.6,456.3 435.0,448.8 439.3,439.4 443.6,438.4 447.9,442.0 452.2,445.9 456.5,446.4 460.9,446.0 465.2,449.3 469.5,454.5 473.8,464.7 478.1,473.5 482.4,481.5 486.8,481.2 491.1,478.2 495.4,470.0 499.7,468.2 504.0,467.9 508.3,475.9 512.7,477.0 517.0,471.6 521.3,457.0 525.6,443.5 529.9,436.3 534.2,438.0 538.6,444.7 542.9,457.7 547.2,467.4 551.5,475.7 555.8,471.2 560.1,462.2 564.5,446.3 568.8,436.0 573.1,426.4 577.4,421.8 581.7,421.2 586.0,427.9 590.4,442.6 594.7,451.7 599.0,455.0 603.3,444.5 607.6,434.5 611.9,425.0 616.3,424.1 620.6,426.7 624.9,432.5 629.2,438.6 633.5,448.8 637.8,460.9 642.2,472.6 646.5,471.5 650.8,461.2 655.1,441.6 659.4,428.7 663.8,420.1" fill="none" stroke="#ff4848" stroke-width="1.2" stroke-dasharray="1.8,1.8"/>
<polyline points="3.2,451.1 7.6,455.7 11.9,453.1 16.2,440.6 20.5,429.8 24.8,432.8 29.2,435.4 33.5,455.2 37.8,466.7 42.1,473.4 46.4,477.3 50.7,468.7 55.1,463.1 59.4,437.1 63.7,422.7 68.0,422.9 72.3,434.6 76.6,451.8 81.0,455.7 85.3,457.6 89.6,462.9 93.9,478.3 98.2,485.4 102.5,483.5 106.9,484.1 111.2,482.6 115.5,482.4 119.8,480.6 124.1,475.1 128.4,473.5 132.8,467.2 137.1,465.1 141.4,456.5 145.7,453.0 150.0,448.0 154.3,437.7 158.7,426.5 163.0,424.5 167.3,422.6 171.6,422.7 175.9,432.4 180.2,448.0 184.6,457.6 188.9,447.9 193.2,443.7 197.5,455.9 201.8,454.5 206.1,441.8 210.5,425.8 214.8,418.0 219.1,418.5 223.4,421.5 227.7,426.5 232.1,429.7 236.4,434.2 240.7,451.4 245.0,459.5 249.3,444.8 253.6,422.5 258.0,416.8 262.3,420.6 266.6,423.3 270.9,437.6 275.2,460.3 279.5,483.6 283.9,478.6 288.2,475.5 292.5,468.9 296.8,475.1 301.1,468.5 305.4,466.7 309.8,465.1 314.1,476.8 318.4,485.7 322.7,485.9 327.0,481.0 331.3,480.8 335.7,476.4 340.0,476.0 344.3,474.8 348.6,474.6 352.9,455.2 357.2,433.3 361.6,417.7 365.9,417.9 370.2,420.9 374.5,423.9 378.8,426.9 383.1,430.4 387.5,444.1 391.8,457.8 396.1,459.9 400.4,464.1 404.7,473.3 409.0,479.5 413.4,470.6 417.7,464.8 422.0,459.5 426.3,462.4 430.6,446.9 435.0,437.0 439.3,434.5 443.6,443.8 447.9,447.8 452.2,446.0 456.5,445.4 460.9,446.7 465.2,455.7 469.5,461.0 473.8,477.2 478.1,482.3 482.4,484.9 486.8,476.4 491.1,473.4 495.4,460.2 499.7,470.9 504.0,472.5 508.3,484.2 512.7,474.1 517.0,456.4 521.3,440.6 525.6,433.6 529.9,434.6 534.2,445.9 538.6,453.5 542.9,473.6 547.2,475.2 551.5,478.3 555.8,460.1 560.1,448.2 564.5,430.7 568.8,429.0 573.1,419.5 577.4,416.9 581.7,427.3 586.0,439.5 590.4,461.1 594.7,454.6 599.0,449.3 603.3,429.5 607.6,424.8 611.9,420.7 616.3,426.8 620.6,432.5 624.9,438.1 629.2,445.3 633.5,463.0 637.8,474.5 642.2,480.4 646.5,459.7 650.8,443.4 655.1,421.5 659.4,421.1 663.8,417.6" fill="none" stroke="#5cc4b8" stroke-width="1.1" stroke-linejoin="round"/>
</g>
<g class="ax">
<line x1="839" y1="16.4" x2="841" y2="16.4" stroke="#5555dd" stroke-width="1"/>
<text transform="translate(842.80,18.70) scale(0.796,1)">1.33240</text>
<line x1="839" y1="34.2" x2="841" y2="34.2" stroke="#5555dd" stroke-width="1"/>
<text transform="translate(842.80,36.54) scale(0.796,1)">1.32810</text>
<line x1="839" y1="52.1" x2="841" y2="52.1" stroke="#5555dd" stroke-width="1"/>
<text transform="translate(842.80,54.38) scale(0.796,1)">1.32380</text>
<line x1="839" y1="69.9" x2="841" y2="69.9" stroke="#5555dd" stroke-width="1"/>
<text transform="translate(842.80,72.22) scale(0.796,1)">1.31960</text>
<line x1="839" y1="87.8" x2="841" y2="87.8" stroke="#5555dd" stroke-width="1"/>
<text transform="translate(842.80,90.06) scale(0.796,1)">1.31530</text>
<line x1="839" y1="105.6" x2="841" y2="105.6" stroke="#5555dd" stroke-width="1"/>
<text transform="translate(842.80,107.90) scale(0.796,1)">1.31100</text>
<line x1="839" y1="123.4" x2="841" y2="123.4" stroke="#5555dd" stroke-width="1"/>
<text transform="translate(842.80,125.74) scale(0.796,1)">1.30670</text>
<line x1="839" y1="141.3" x2="841" y2="141.3" stroke="#5555dd" stroke-width="1"/>
<text transform="translate(842.80,143.58) scale(0.796,1)">1.30240</text>
<line x1="839" y1="159.1" x2="841" y2="159.1" stroke="#5555dd" stroke-width="1"/>
<text transform="translate(842.80,161.42) scale(0.796,1)">1.29820</text>
<line x1="839" y1="177.0" x2="841" y2="177.0" stroke="#5555dd" stroke-width="1"/>
<text transform="translate(842.80,179.26) scale(0.796,1)">1.29390</text>
<line x1="839" y1="194.8" x2="841" y2="194.8" stroke="#5555dd" stroke-width="1"/>
<text transform="translate(842.80,197.10) scale(0.796,1)">1.28960</text>
<line x1="839" y1="212.6" x2="841" y2="212.6" stroke="#5555dd" stroke-width="1"/>
<text transform="translate(842.80,214.94) scale(0.796,1)">1.28530</text>
<line x1="839" y1="230.5" x2="841" y2="230.5" stroke="#5555dd" stroke-width="1"/>
<text transform="translate(842.80,232.78) scale(0.796,1)">1.28100</text>
<line x1="839" y1="248.3" x2="841" y2="248.3" stroke="#5555dd" stroke-width="1"/>
<text transform="translate(842.80,250.62) scale(0.796,1)">1.27670</text>
<line x1="839" y1="266.2" x2="841" y2="266.2" stroke="#5555dd" stroke-width="1"/>
<text transform="translate(842.80,268.46) scale(0.796,1)">1.27250</text>
<line x1="839" y1="284.0" x2="841" y2="284.0" stroke="#5555dd" stroke-width="1"/>
<text transform="translate(842.80,286.30) scale(0.796,1)">1.26820</text>
<line x1="839" y1="301.8" x2="841" y2="301.8" stroke="#5555dd" stroke-width="1"/>
<text transform="translate(842.80,304.14) scale(0.796,1)">1.26390</text>
<line x1="839" y1="319.7" x2="841" y2="319.7" stroke="#5555dd" stroke-width="1"/>
<text transform="translate(842.80,321.98) scale(0.796,1)">1.25960</text>
<line x1="839" y1="337.5" x2="841" y2="337.5" stroke="#5555dd" stroke-width="1"/>
<text transform="translate(842.80,339.82) scale(0.796,1)">1.25530</text>
<line x1="839" y1="355.4" x2="841" y2="355.4" stroke="#5555dd" stroke-width="1"/>
<text transform="translate(842.80,357.66) scale(0.796,1)">1.25110</text>
<line x1="839" y1="373.2" x2="841" y2="373.2" stroke="#5555dd" stroke-width="1"/>
<text transform="translate(842.80,375.50) scale(0.796,1)">1.24680</text>
<line x1="839" y1="391.0" x2="841" y2="391.0" stroke="#5555dd" stroke-width="1"/>
<text transform="translate(842.80,393.34) scale(0.796,1)">1.24250</text>
<line x1="839" y1="408.9" x2="841" y2="408.9" stroke="#5555dd" stroke-width="1"/>
<text transform="translate(842.80,411.18) scale(0.796,1)">1.23820</text>
<rect x="840" y="22.7" width="22" height="5.7" fill="#0000c8"/>
<line x1="2.8" y1="488" x2="2.8" y2="491" stroke="#5555dd" stroke-width="1"/>
<text transform="translate(2.60,495.70) scale(0.827,1)">16 Feb 2022</text>
<line x1="37.3" y1="488" x2="37.3" y2="491" stroke="#5555dd" stroke-width="1"/>
<text transform="translate(37.14,495.70) scale(0.827,1)">28 Feb 2022</text>
<line x1="71.9" y1="488" x2="71.9" y2="491" stroke="#5555dd" stroke-width="1"/>
<text transform="translate(71.67,495.70) scale(0.827,1)">10 Mar 2022</text>
<line x1="106.4" y1="488" x2="106.4" y2="491" stroke="#5555dd" stroke-width="1"/>
<text transform="translate(106.21,495.70) scale(0.827,1)">22 Mar 2022</text>
<line x1="140.9" y1="488" x2="140.9" y2="491" stroke="#5555dd" stroke-width="1"/>
<text transform="translate(140.74,495.70) scale(0.827,1)">1 Apr 2022</text>
<line x1="175.5" y1="488" x2="175.5" y2="491" stroke="#5555dd" stroke-width="1"/>
<text transform="translate(175.28,495.70) scale(0.827,1)">13 Apr 2022</text>
<line x1="210.0" y1="488" x2="210.0" y2="491" stroke="#5555dd" stroke-width="1"/>
<text transform="translate(209.82,495.70) scale(0.827,1)">25 Apr 2022</text>
<line x1="244.6" y1="488" x2="244.6" y2="491" stroke="#5555dd" stroke-width="1"/>
<text transform="translate(244.35,495.70) scale(0.827,1)">5 May 2022</text>
<line x1="279.1" y1="488" x2="279.1" y2="491" stroke="#5555dd" stroke-width="1"/>
<text transform="translate(278.89,495.70) scale(0.827,1)">17 May 2022</text>
<line x1="313.6" y1="488" x2="313.6" y2="491" stroke="#5555dd" stroke-width="1"/>
<text transform="translate(313.42,495.70) scale(0.827,1)">27 May 2022</text>
<line x1="348.2" y1="488" x2="348.2" y2="491" stroke="#5555dd" stroke-width="1"/>
<text transform="translate(347.96,495.70) scale(0.827,1)">8 Jun 2022</text>
<line x1="382.7" y1="488" x2="382.7" y2="491" stroke="#5555dd" stroke-width="1"/>
<text transform="translate(382.50,495.70) scale(0.827,1)">20 Jun 2022</text>
<line x1="417.2" y1="488" x2="417.2" y2="491" stroke="#5555dd" stroke-width="1"/>
<text transform="translate(417.03,495.70) scale(0.827,1)">30 Jun 2022</text>
<line x1="451.8" y1="488" x2="451.8" y2="491" stroke="#5555dd" stroke-width="1"/>
<text transform="translate(451.57,495.70) scale(0.827,1)">12 Jul 2022</text>
<line x1="486.3" y1="488" x2="486.3" y2="491" stroke="#5555dd" stroke-width="1"/>
<text transform="translate(486.10,495.70) scale(0.827,1)">22 Jul 2022</text>
<line x1="520.8" y1="488" x2="520.8" y2="491" stroke="#5555dd" stroke-width="1"/>
<text transform="translate(520.64,495.70) scale(0.827,1)">3 Aug 2022</text>
<line x1="555.4" y1="488" x2="555.4" y2="491" stroke="#5555dd" stroke-width="1"/>
<text transform="translate(555.18,495.70) scale(0.827,1)">15 Aug 2022</text>
<line x1="589.9" y1="488" x2="589.9" y2="491" stroke="#5555dd" stroke-width="1"/>
<text transform="translate(589.71,495.70) scale(0.827,1)">25 Aug 2022</text>
<line x1="624.4" y1="488" x2="624.4" y2="491" stroke="#5555dd" stroke-width="1"/>
<text transform="translate(624.25,495.70) scale(0.827,1)">6 Sep 2022</text>
<line x1="659.0" y1="488" x2="659.0" y2="491" stroke="#5555dd" stroke-width="1"/>
<text transform="translate(658.78,495.70) scale(0.827,1)">16 Sep 2022</text>
<path d="M4.4,5.5 L8.2,5.5 L6.3,7.9 Z" fill="#1818b0"/>
<text transform="translate(10.90,8.90) scale(0.886,1)">USDCAD#,Daily</text><text transform="translate(53.40,8.90) scale(0.842,1)">1.32606 1.33104 1.32493 1.33019</text><text transform="translate(4.90,419.20) scale(0.827,1)">Stoch(5,3,3) 93.3961 90.2817</text><text transform="translate(842.80,28.10) scale(0.780,1)" style="fill:#fff">1.33019</text><text transform="translate(841.20,417.60) scale(0.780,1)">100</text><text transform="translate(841.20,429.70) scale(0.780,1)">80</text><text transform="translate(841.20,475.20) scale(0.780,1)">20</text><text transform="translate(841.50,487.20) scale(0.780,1)">0</text>
</g>
<!-- annotations -->
<text class="cn" x="4.3" y="406.3" font-size="11.4">2022年9月19日</text><text class="cn" x="86.4" y="406.3" font-size="11.4">美加日K线</text>
<g fill="#ffb400">
<path d="M664.3,56.9 L688.0,56.4 L688.0,54.3 L693.6,57.6 L688.0,60.9 L688.0,58.8 L664.3,58.3 Z"/>
<path d="M663.3,139.6 L691.0,139.1 L691.0,137.0 L696.8,140.3 L691.0,143.6 L691.0,141.5 L663.3,141.0 Z"/>
</g>
<text class="cn" x="701" y="60.2" font-size="11.5">5日均线</text>
<text class="cn" x="700.4" y="142.2" font-size="11.5">30日均线</text>
<rect x="646.5" y="412.8" width="50.3" height="20.3" fill="none" stroke="#f00000" stroke-width="1.8" stroke-linejoin="round"/>
<text class="cn" x="706" y="423.6" font-size="11.3">KD多方过热</text>
</svg>
</body></html>
